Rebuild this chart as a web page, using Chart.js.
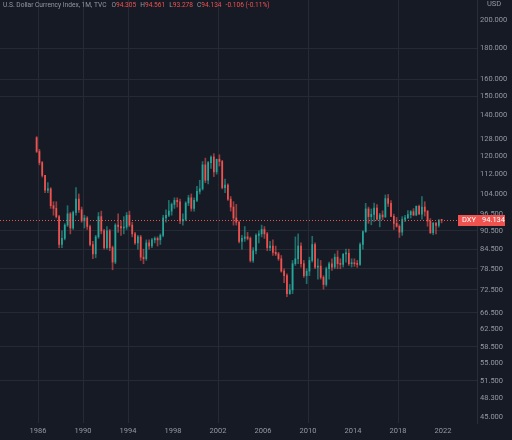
<!DOCTYPE html>
<html>
<head>
<meta charset="utf-8">
<title>DXY 1M</title>
<script src="https://cdn.jsdelivr.net/npm/chart.js@4.4.0/dist/chart.umd.min.js"></script>
<style>
  html, body { margin: 0; padding: 0; background: #161a25; }
  #wrap { width: 512px; height: 440px; }
</style>
</head>
<body>
<div id="wrap"><canvas id="dxy-chart" width="512" height="440"></canvas></div>
<script>
// quarterly candles (last one = current month)
const quarters = [
  "1985Q4",
  "1986Q1", "1986Q2", "1986Q3", "1986Q4",
  "1987Q1", "1987Q2", "1987Q3", "1987Q4",
  "1988Q1", "1988Q2", "1988Q3", "1988Q4",
  "1989Q1", "1989Q2", "1989Q3", "1989Q4",
  "1990Q1", "1990Q2", "1990Q3", "1990Q4",
  "1991Q1", "1991Q2", "1991Q3", "1991Q4",
  "1992Q1", "1992Q2", "1992Q3", "1992Q4",
  "1993Q1", "1993Q2", "1993Q3", "1993Q4",
  "1994Q1", "1994Q2", "1994Q3", "1994Q4",
  "1995Q1", "1995Q2", "1995Q3", "1995Q4",
  "1996Q1", "1996Q2", "1996Q3", "1996Q4",
  "1997Q1", "1997Q2", "1997Q3", "1997Q4",
  "1998Q1", "1998Q2", "1998Q3", "1998Q4",
  "1999Q1", "1999Q2", "1999Q3", "1999Q4",
  "2000Q1", "2000Q2", "2000Q3", "2000Q4",
  "2001Q1", "2001Q2", "2001Q3", "2001Q4",
  "2002Q1", "2002Q2", "2002Q3", "2002Q4",
  "2003Q1", "2003Q2", "2003Q3", "2003Q4",
  "2004Q1", "2004Q2", "2004Q3", "2004Q4",
  "2005Q1", "2005Q2", "2005Q3", "2005Q4",
  "2006Q1", "2006Q2", "2006Q3", "2006Q4",
  "2007Q1", "2007Q2", "2007Q3", "2007Q4",
  "2008Q1", "2008Q2", "2008Q3", "2008Q4",
  "2009Q1", "2009Q2", "2009Q3", "2009Q4",
  "2010Q1", "2010Q2", "2010Q3", "2010Q4",
  "2011Q1", "2011Q2", "2011Q3", "2011Q4",
  "2012Q1", "2012Q2", "2012Q3", "2012Q4",
  "2013Q1", "2013Q2", "2013Q3", "2013Q4",
  "2014Q1", "2014Q2", "2014Q3", "2014Q4",
  "2015Q1", "2015Q2", "2015Q3", "2015Q4",
  "2016Q1", "2016Q2", "2016Q3", "2016Q4",
  "2017Q1", "2017Q2", "2017Q3", "2017Q4",
  "2018Q1", "2018Q2", "2018Q3", "2018Q4",
  "2019Q1", "2019Q2", "2019Q3", "2019Q4",
  "2020Q1", "2020Q2", "2020Q3", "2020Q4",
  "2021Q1", "2021Q2", "2021Q3", "2021Q4"
];

const opens = [
  128.5,
  122.0, 117.0, 111.5, 105.5,
  106.0, 99.5, 98.5, 95.5,
  86.0, 88.0, 92.5, 96.5,
  91.5, 97.0, 102.0, 98.0,
  94.0, 95.0, 92.0, 86.0,
  83.0, 88.5, 95.5, 90.5,
  85.0, 90.5, 85.0, 80.5,
  92.5, 92.0, 91.5, 91.8,
  96.0, 92.5, 89.5, 86.5,
  88.5, 82.0, 81.5, 86.5,
  85.5, 87.5, 88.0, 87.5,
  89.0, 95.0, 96.0, 97.5,
  100.0, 101.5, 101.0, 94.0,
  94.5, 100.5, 102.5, 98.5,
  101.5, 105.0, 106.0, 116.0,
  109.5, 117.0, 119.5, 113.0,
  118.5, 117.5, 106.5, 107.5,
  102.0, 99.0, 95.0, 93.5,
  87.0, 88.0, 88.5, 88.0,
  81.0, 84.0, 89.0, 89.5,
  91.0, 89.5, 85.0, 85.5,
  83.5, 83.0, 81.5, 77.8,
  76.5, 71.5, 72.5, 80.0,
  81.5, 85.5, 80.0, 76.5,
  77.8, 81.0, 86.0, 79.0,
  79.3, 76.0, 74.0, 78.5,
  80.0, 79.0, 82.0, 80.0,
  79.8, 83.0, 83.2, 80.0,
  80.2, 80.0, 79.8, 86.0,
  90.3, 98.3, 95.5, 96.3,
  98.6, 94.6, 96.1, 95.4,
  102.2, 100.4, 95.6, 93.1,
  92.1, 90.1, 94.5, 95.1,
  96.2, 97.3, 96.1, 99.3,
  96.4, 99.0, 97.4, 93.9,
  89.9, 93.2, 92.4, 94.305
];

const highs = [
  129.0,
  123.0, 117.5, 111.5, 108.5,
  106.5, 101.0, 101.0, 96.0,
  90.5, 93.0, 99.5, 97.0,
  97.5, 106.5, 104.0, 99.0,
  96.0, 95.5, 92.5, 87.0,
  89.0, 97.0, 97.5, 91.0,
  92.0, 91.0, 85.5, 93.0,
  96.5, 94.0, 95.5, 97.0,
  97.5, 93.5, 90.0, 89.0,
  89.0, 84.5, 87.5, 87.5,
  88.0, 88.5, 88.5, 89.5,
  96.0, 98.0, 101.5, 100.5,
  102.5, 102.5, 102.0, 96.5,
  101.0, 103.5, 104.0, 102.5,
  107.0, 109.5, 117.5, 119.0,
  117.5, 120.0, 121.0, 118.5,
  120.5, 118.0, 110.0, 108.0,
  103.0, 101.0, 100.0, 94.0,
  89.0, 92.0, 90.0, 88.5,
  85.0, 89.5, 90.5, 92.5,
  92.0, 90.0, 87.0, 87.5,
  85.5, 83.5, 82.5, 78.5,
  77.0, 74.0, 81.0, 88.5,
  89.5, 86.5, 81.0, 78.5,
  82.0, 88.7, 86.5, 81.5,
  81.0, 76.5, 79.0, 80.5,
  81.5, 83.0, 84.0, 81.5,
  83.0, 84.5, 84.5, 81.5,
  81.5, 81.0, 86.5, 90.5,
  100.4, 99.0, 98.3, 100.5,
  99.9, 96.7, 97.6, 103.6,
  103.8, 101.4, 96.4, 95.2,
  92.6, 95.5, 96.0, 97.7,
  97.7, 98.4, 99.4, 99.7,
  103.0, 101.0, 97.8, 94.8,
  93.4, 93.4, 94.5, 94.561
];

const lows = [
  121.5,
  116.0, 110.8, 104.5, 104.5,
  98.5, 96.0, 95.0, 85.0,
  85.0, 87.5, 92.0, 89.5,
  91.0, 96.0, 97.0, 93.5,
  91.5, 91.0, 85.5, 81.5,
  81.8, 88.0, 89.5, 84.5,
  84.5, 84.0, 78.2, 80.0,
  90.0, 89.0, 89.5, 91.0,
  92.0, 88.5, 86.0, 84.5,
  81.0, 80.0, 81.0, 84.5,
  85.0, 86.5, 85.5, 86.0,
  88.5, 93.5, 95.5, 96.0,
  98.5, 99.0, 93.0, 92.5,
  94.0, 99.5, 97.5, 97.5,
  101.0, 104.0, 105.5, 108.5,
  108.0, 114.5, 111.0, 112.0,
  115.5, 106.0, 104.5, 101.5,
  97.5, 92.5, 92.5, 86.5,
  84.5, 87.0, 87.5, 80.5,
  80.4, 83.0, 86.5, 88.5,
  88.0, 84.0, 84.0, 82.5,
  82.5, 81.0, 77.5, 74.5,
  70.7, 71.3, 71.5, 79.5,
  80.0, 79.0, 76.0, 74.2,
  76.5, 80.5, 78.5, 75.5,
  75.5, 72.7, 73.5, 75.5,
  78.0, 78.5, 78.5, 78.5,
  79.0, 80.5, 79.5, 79.0,
  79.2, 78.9, 79.5, 84.5,
  90.0, 93.1, 92.6, 93.8,
  94.2, 91.9, 94.4, 95.2,
  99.2, 95.5, 91.0, 91.8,
  88.3, 89.0, 93.7, 94.8,
  95.0, 95.8, 95.8, 96.4,
  94.6, 95.7, 92.1, 89.6,
  89.2, 89.5, 91.8, 93.278
];

const closes = [
  122.0,
  117.0, 111.5, 105.5, 106.0,
  99.5, 98.5, 95.5, 86.0,
  88.0, 92.5, 96.5, 91.5,
  97.0, 102.0, 98.0, 94.0,
  95.0, 92.0, 86.0, 83.0,
  88.5, 95.5, 90.5, 85.0,
  90.5, 85.0, 80.5, 92.5,
  92.0, 91.5, 91.8, 96.0,
  92.5, 89.5, 86.5, 88.5,
  82.0, 81.5, 86.5, 85.5,
  87.5, 88.0, 87.5, 89.0,
  95.0, 96.0, 97.5, 100.0,
  101.5, 101.0, 94.0, 94.5,
  100.5, 102.5, 98.5, 101.5,
  105.0, 106.0, 116.0, 109.5,
  117.0, 119.5, 113.0, 118.5,
  117.5, 106.5, 107.5, 102.0,
  99.0, 95.0, 93.5, 87.0,
  88.0, 88.5, 88.0, 81.0,
  84.0, 89.0, 89.5, 91.0,
  89.5, 85.0, 85.5, 83.5,
  83.0, 81.5, 77.8, 76.5,
  71.5, 72.5, 80.0, 81.5,
  85.5, 80.0, 76.5, 77.8,
  81.0, 86.0, 79.0, 79.3,
  76.0, 74.0, 78.5, 80.0,
  79.0, 82.0, 80.0, 79.8,
  83.0, 83.2, 80.0, 80.2,
  80.0, 79.8, 86.0, 90.3,
  98.3, 95.5, 96.3, 98.6,
  94.6, 96.1, 95.4, 102.2,
  100.4, 95.6, 93.1, 92.1,
  90.1, 94.5, 95.1, 96.2,
  97.3, 96.1, 99.3, 96.4,
  99.0, 97.4, 93.9, 89.9,
  93.2, 92.4, 94.2, 94.134
];

const yTicks = [200, 180, 160, 150, 140, 128, 120, 112, 104, 96.5, 90.5, 84.5,
  78.5, 72.5, 66.5, 62.5, 58.5, 55, 51.5, 48.3, 45];
const yGrid = [180, 160, 150, 90.5, 84.5, 78.5, 72.5, 66.5, 58.5, 51.5];
const xTicks = [1986, 1990, 1994, 1998, 2002, 2006, 2010, 2014, 2018, 2022];
const xGrid = [1986, 1990, 1994, 2002, 2010, 2018];

const symbol = "DXY";
const title = "U.S. Dollar Currency Index, 1M, TVC";
const change = "-0.106 (-0.11%)";

const UP = "#26a69a";
const DOWN = "#ef5350";
const BG = "#161a25";
const TEXT = "#9598a1";
const FONT = "Roboto";

// quarter label -> fractional year at its middle
const qx = q => +q.slice(0, 4) + (+q[5] - 0.5) / 4;
const isUp = opens.map((o, i) => closes[i] >= o);
const bodyColors = isUp.map(u => (u ? UP : DOWN));
const wickColors = isUp.map(u => (u ? "rgba(38,166,154,0.6)" : "rgba(239,83,80,0.6)"));
const last = closes.length - 1;

const overlay = {
  id: "overlay",
  beforeDraw(chart) {
    const c = chart.ctx;
    c.save();
    c.fillStyle = BG;
    c.fillRect(0, 0, chart.width, chart.height);
    c.restore();
  },
  afterDatasetsDraw(chart) {
    const { ctx, chartArea, scales } = chart;
    const py = Math.round(scales.y.getPixelForValue(closes[last])) + 0.5;
    ctx.save();
    ctx.strokeStyle = DOWN;
    ctx.lineWidth = 1;
    ctx.setLineDash([1, 2]);
    ctx.beginPath();
    ctx.moveTo(chartArea.left, py);
    ctx.lineTo(chartArea.right, py);
    ctx.stroke();
    ctx.restore();
  },
  afterDraw(chart) {
    const { ctx, chartArea, scales } = chart;
    const py = Math.round(scales.y.getPixelForValue(closes[last]));
    ctx.save();

    // last price tag
    ctx.fillStyle = DOWN;
    ctx.fillRect(chartArea.right - 19, py - 5, 47, 11);
    ctx.fillStyle = "#ffffff";
    ctx.font = `7.5px ${FONT}`;
    ctx.textBaseline = "middle";
    ctx.textAlign = "left";
    ctx.fillText(symbol, chartArea.right - 15, py + 0.5);
    ctx.fillText(closes[last].toFixed(3), chartArea.right + 5, py + 0.5);

    // currency over the price axis
    ctx.fillStyle = TEXT;
    ctx.textAlign = "center";
    ctx.fillText("USD", chartArea.right + 17, 4);

    // legend line, laid out left to right
    ctx.textAlign = "left";
    ctx.font = `6.6px ${FONT}`;
    let x = 3;
    const put = (s, col, gap) => {
      ctx.fillStyle = col;
      ctx.fillText(s, x, 5);
      x += ctx.measureText(s).width + gap;
    };
    put(title, TEXT, 5);
    [["O", opens[last]], ["H", highs[last]], ["L", lows[last]], ["C", closes[last]]]
      .forEach(([k, v]) => {
        put(k, TEXT, 0);
        put(v.toFixed(3), DOWN, 4);
      });
    put(change, DOWN, 0);
    ctx.restore();
  }
};

new Chart(document.getElementById("dxy-chart"), {
  type: "bar",
  data: {
    datasets: [
      {
        label: "wick",
        data: quarters.map((q, i) => ({ x: qx(q), y: [lows[i], highs[i]] })),
        backgroundColor: wickColors,
        barThickness: 1,
        grouped: false,
        order: 2
      },
      {
        label: "body",
        data: quarters.map((q, i) => ({
          x: qx(q),
          y: [Math.min(opens[i], closes[i]), Math.max(opens[i], closes[i])]
        })),
        backgroundColor: bodyColors,
        barThickness: 1,
        minBarLength: 1,
        grouped: false,
        order: 1
      }
    ]
  },
  options: {
    responsive: false,
    animation: false,
    layout: { padding: 0 },
    plugins: { legend: { display: false }, tooltip: { enabled: false } },
    scales: {
      x: {
        type: "linear",
        offset: false,
        min: 1982.62,
        max: 2025.02,
        afterBuildTicks: s => { s.ticks = xTicks.map(v => ({ value: v })); },
        afterFit: s => { s.height = 17; s.paddingLeft = 0; s.paddingRight = 0; },
        ticks: {
          autoSkip: false,
          maxRotation: 0,
          color: TEXT,
          font: { family: FONT, size: 7.5 },
          padding: 4,
          callback: v => String(v)
        },
        grid: {
          offset: false,
          drawTicks: false,
          color: c => (c.tick && xGrid.includes(c.tick.value) ? "#262a35" : "transparent")
        },
        border: { display: false }
      },
      y: {
        type: "logarithmic",
        position: "right",
        min: 43.96,
        max: 215.6,
        afterBuildTicks: s => { s.ticks = yTicks.map(v => ({ value: v })); },
        afterFit: s => { s.width = 35; s.paddingTop = 0; s.paddingBottom = 0; },
        ticks: {
          autoSkip: false,
          color: TEXT,
          font: { family: FONT, size: 7.5 },
          padding: 3,
          callback: v => Number(v).toFixed(3)
        },
        grid: {
          drawTicks: false,
          color: c => (c.tick && yGrid.includes(c.tick.value) ? "#262a35" : "transparent")
        },
        border: { display: true, color: "#2a2e39" }
      }
    }
  },
  plugins: [overlay]
});
</script>
</body>
</html>
